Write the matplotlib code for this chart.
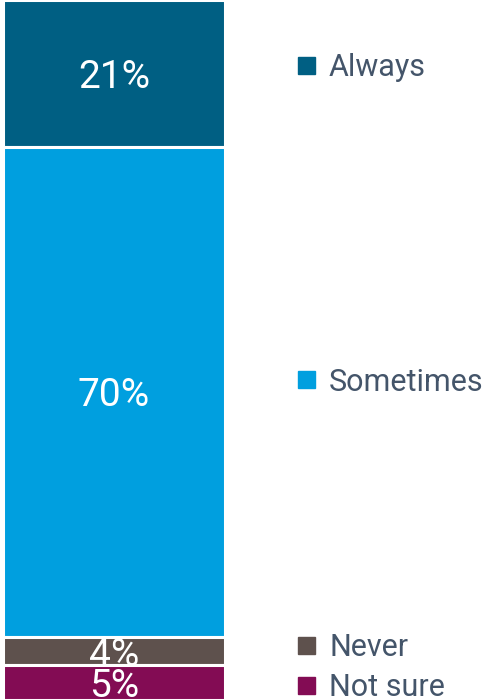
import matplotlib
matplotlib.use("Agg")
import matplotlib.pyplot as plt
from matplotlib.patches import Rectangle

categories = ["Always", "Sometimes", "Never", "Not sure"]
shares = [21, 70, 4, 5]
colors = ["#005f83", "#009fdf", "#5e514d", "#830c54"]
legend_y_px = [65, 379, 645, 685]  # vertical placement of legend entries (pixels from top)

W, H = 485, 700
plt.rcParams["font.family"] = ["Roboto", "DejaVu Sans"]
fig = plt.figure(figsize=(W / 100, H / 100), dpi=100)

ax = fig.add_axes([3 / W, 0, 222 / W, 1])
ax.set_xlim(0, 1)
ax.set_ylim(100, 0)
ax.axis("off")

bottom = 0
for cat, val, col in zip(categories, shares, colors):
    bars = ax.bar(0.5, val, width=1.0, bottom=bottom, color=col,
                  edgecolor="white", linewidth=2.2)
    rect = bars.patches[0]
    t = ax.text(0.5, bottom + val / 2, f"{val}%", ha="center", va="center_baseline",
                color="white", fontsize=28, fontweight="normal")
    t.set_clip_path(rect)
    bottom += val

# Legend entries placed beside the bar
for cat, col, ypx in zip(categories, colors, legend_y_px):
    yf = 1 - ypx / H
    fig.patches.append(Rectangle((298 / W, yf - 8.5 / H), 17 / W, 17 / H,
                                 transform=fig.transFigure, color=col))
    fig.text(329 / W, yf, cat, ha="left", va="center_baseline",
             color="#44556a", fontsize=22)

fig.savefig("out.png", dpi=100)
